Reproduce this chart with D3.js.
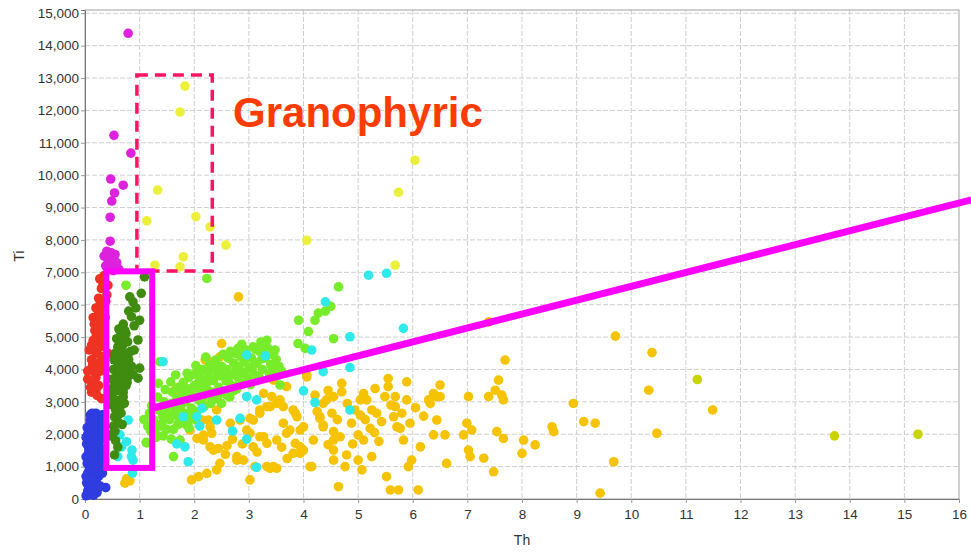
<!DOCTYPE html>
<html lang="en">
<head>
<meta charset="UTF-8">
<title>Th vs Ti</title>
<style>
    body { margin: 0; background: #fff; }
    text { font-family: "Liberation Sans", Arial, sans-serif; }
    .tick text { font-size: 13.5px; fill: #333; }
    .axis-title { font-size: 14px; fill: #333; }
</style>
</head>
<body>
<div id="chart"></div>
<script src="https://cdnjs.cloudflare.com/ajax/libs/d3/7.8.5/d3.min.js"></script>
<script>
    // tick values
    var thTicks = d3.range(0, 17);
    var tiTicks = d3.range(0, 15001, 1000);

    // groups, [Th, Ti]
    var blue = [[0.02,100],[0.05,250],[0.1,150],[0.15,300],[0.03,500],[0.08,600],[0.14,450],[0.2,550],[0.25,700],[0.05,800],
        [0.12,900],[0.18,850],[0.22,1000],[0.28,950],[0.04,1100],[0.1,1200],[0.16,1150],[0.24,1300],[0.3,1250],[0.06,1400],
        [0.13,1500],[0.2,1450],[0.27,1600],[0.03,1700],[0.09,1750],[0.17,1800],[0.23,1900],[0.3,1850],[0.05,2000],[0.12,2050],
        [0.19,2100],[0.26,2150],[0.08,2250],[0.15,2300],[0.22,2350],[0.18,2500],[0.25,2550],[0.2,2650],[0.1,2450],[0.02,1900],
        [0.02,1300],[0.02,700],[0.07,350],[0.12,700],[0.18,1000],[0.27,1100],[0.32,800],[0.35,1500],[0.33,2000],[0.28,400],
        [0.22,200],[0.38,350],[0.1,2600],[0.3,2450],[0.15,1650],[0.09,950],[0.25,1650],[0.35,1100],
        [0.06,150],[0.16,120],[0.25,350],[0.12,380],[0.04,650],[0.2,750],[0.15,620],[0.08,1000],[0.25,880],[0.14,1050],
        [0.32,1350],[0.06,1250],[0.2,1250],[0.11,1350],[0.17,1550],[0.28,1400],[0.07,1550],[0.22,1700],[0.12,1850],[0.27,1800],
        [0.04,2200],[0.14,2150],[0.24,2000],[0.3,2250],[0.1,2300],[0.17,2400],[0.26,2300],[0.13,2650],[0.07,2050],[0.32,2600]];

    var red = [[0.35,6900],[0.42,6600],[0.3,6500],[0.25,6200],[0.38,6100],[0.2,5900],[0.3,5800],[0.22,5500],[0.33,5400],
        [0.18,5200],[0.28,5100],[0.15,4900],[0.25,4800],[0.35,4700],[0.2,4500],[0.3,4400],[0.12,4300],[0.22,4200],[0.1,4000],
        [0.18,3900],[0.28,3950],[0.05,3700],[0.15,3600],[0.25,3500],[0.12,3300],[0.22,3200],[0.3,3100],[0.08,4600],[0.28,5600],
        [0.35,5300],[0.4,6300],[0.15,5600],[0.32,4200],[0.42,4500],
        [0.1,3450],[0.2,3750],[0.27,4100],[0.14,4150],[0.24,4650],[0.12,4750],[0.32,5000],[0.21,5050],[0.27,5350],[0.17,5400],
        [0.25,5750],[0.35,5950],[0.28,6050],[0.33,6650],[0.27,6800],[0.37,5600],[0.05,3950],[0.2,3350]];

    var magenta = [[0.79,14380],[0.53,11230],[0.84,10680],[0.47,9880],[0.7,9690],[0.54,9450],[0.49,9200],[0.46,8700],
        [0.46,7960],[0.4,7650],[0.48,7600],[0.55,7550],[0.42,7400],[0.5,7350],[0.38,7200],[0.45,7150],[0.58,7300],[0.62,7100],
        [0.35,7500],[0.52,7050]];

    var darkGreen = [[1.09,6860],[0.82,6240],[0.88,6090],[1.03,6350],[0.85,5630],[1.0,5520],[0.73,5210],[0.64,5010],[0.97,4910],
        [0.6,4700],[1.0,4040],[0.97,3730],[0.54,3060],[0.64,2850],[0.54,2540],[0.51,2030],[0.54,1360],
        [0.55,4500],[0.65,4400],[0.75,4450],[0.6,4200],[0.7,4250],[0.8,4300],[0.52,4000],[0.62,4050],[0.72,4000],[0.85,4100],
        [0.58,3800],[0.68,3850],[0.78,3750],[0.55,3550],[0.65,3600],[0.75,3500],[0.6,3350],[0.7,3300],[0.5,3150],[0.62,3050],
        [0.72,2950],[0.56,2750],[0.66,2650],[0.6,2400],[0.52,2250],[0.68,2300],[0.56,1800],[0.6,1600],[0.9,4600],[0.68,4700],
        [0.78,4850],[0.58,4950],[0.7,5400],[0.8,5800],[0.93,5900],
        [0.48,3400],[0.57,3450],[0.67,3450],[0.77,3600],[0.82,3950],[0.63,3950],[0.53,4300],[0.73,4150],[0.83,4550],[0.63,4600],
        [0.48,3700],[0.88,3850],[0.58,2550],[0.5,2900],[0.7,3150],[0.66,4850],[0.75,5100],[0.62,5250],[0.9,5350],[0.47,1950],
        [0.55,2100]];

    var cyan = [[0.79,2440],[0.64,1980],[0.76,1770],[0.86,1510],[0.6,1310],[0.88,1200],[0.85,1310],[0.67,1610],[0.87,800],
        [1.43,4240],[2.96,4450],[3.3,4420],[4.0,3340],[4.15,4600],[4.21,2980],[2.14,2800],[2.41,2440],[2.1,2250],[1.8,2540],
        [2.84,2490],[2.96,3160],[3.14,3060],[1.68,1700],[1.83,1610],[1.89,1150],[2.96,1850],[3.14,980],[5.19,6910],[5.52,6970],
        [4.4,6090],[5.83,5270],[4.85,5010],[4.85,4060],[4.36,3930],[4.85,2750],[2.05,2540],[2.7,2100]];

    var lightGreen = [[1.12,1750],[1.2,2100],[1.25,2450],[1.3,1900],[1.35,2750],[1.38,2250],[1.42,2550],[1.45,3000],[1.5,2150],
        [1.48,2800],[1.3,2300],[1.18,2650],[1.28,2050],[1.55,2450],[1.58,2950],[1.6,3300],[1.62,2150],[1.65,2700],[1.68,3100],
        [1.7,3450],[1.72,2500],[1.75,2850],[1.78,3250],[1.8,3600],[1.82,2650],[1.85,3000],[1.88,3400],[1.9,3750],[1.92,2450],
        [1.95,2800],[1.97,3150],[2.0,3500],[2.0,3850],[1.6,2600],[1.7,2300],[1.85,2300],[2.05,2700],[2.08,3050],[2.1,3350],
        [2.12,3700],[2.15,4000],[2.18,2850],[2.2,3200],[2.22,3550],[2.25,3900],[2.28,4150],[2.3,2950],[2.32,3300],[2.35,3650],
        [2.38,4000],[2.4,4300],[2.42,3100],[2.45,3450],[2.48,3800],[2.5,4100],[2.5,2950],[2.1,3900],[2.25,3350],[2.55,3300],
        [2.58,3650],[2.6,4000],[2.62,4350],[2.65,3150],[2.68,3500],[2.7,3850],[2.72,4200],[2.75,4500],[2.78,3400],[2.8,3750],
        [2.82,4100],[2.85,4400],[2.88,3550],[2.9,3900],[2.92,4250],[2.95,4600],[2.98,3700],[3.0,4050],[2.6,3200],[2.8,4650],
        [3.05,4350],[3.08,4700],[3.1,3850],[3.15,4200],[3.2,4550],[3.22,4850],[3.25,4000],[3.3,4350],[3.33,4900],[3.35,4650],
        [3.4,4150],[3.45,4450],[3.5,4300],[3.55,4100],[3.6,3950],[3.38,3850],
        [1.22,2880],[1.33,3150],[1.41,2330],[1.47,3380],[1.52,2620],[1.57,3620],[1.63,2880],[1.66,3830],[1.73,3050],[1.77,2420],
        [1.83,3420],[1.87,3880],[1.93,3280],[1.98,2660],[2.03,4120],[2.07,3580],[2.13,2980],[2.17,3420],[2.21,4380],[2.27,3770],
        [2.33,3050],[2.36,4160],[2.43,3860],[2.46,3250],[2.53,4470],[2.56,3870],[2.63,3630],[2.66,4560],[2.73,3350],[2.77,4030],
        [2.83,3580],[2.87,4780],[2.93,3860],[2.97,4420],[3.03,3530],[3.07,4080],[3.12,4620],[3.18,3780],[3.24,4330],[3.28,4710],
        [3.36,4480],[3.43,4020],[3.48,4600],[3.52,3800],[1.43,1950],[1.58,1850],[1.9,2200],[2.02,2450],[1.15,2250],[1.08,2450],
        [0.75,6600],[2.23,6810],[3.91,5520],[4.21,5520],[4.27,5740],[4.09,5170],[4.03,4650],[4.64,6550],[3.57,3520],[1.34,3570],
        [1.37,4240],[1.62,1310],[1.74,1820],[1.28,2030],[1.13,1730],[4.4,5800],[4.5,5950],[4.55,4950],[3.9,4800]];

    var orange = [[0.73,490],[0.82,560],[0.76,620],
        [2.5,4800],[2.2,4290],[2.32,4240],[2.47,4390],[2.81,6240],[1.65,3360],[2.14,3060],[1.74,2340],[1.92,2130],
        [2.05,1870],[2.17,1975],[2.32,2030],[2.29,1610],[2.44,1560],[2.47,1100],[1.95,590],[2.08,690],[2.23,790],[2.41,900],
        [2.14,2440],[2.26,2440],[2.41,2750],[2.29,2230],[2.35,1510],[2.17,1820],
        [2.78,1310],[2.9,1200],[2.78,1200],[3.02,590],[3.11,1000],[3.33,1000],[3.45,1000],[3.39,950],[3.51,950],[2.84,2440],
        [2.96,2130],[3.08,2440],[3.2,2750],[3.33,2850],[3.27,3260],[3.42,3160],[3.51,2950],[3.2,1920],[3.33,1720],[3.08,1610],
        [3.02,2030],[3.27,1920],[3.51,1820],[3.69,2030],[2.66,2340],[3.02,2490],[3.2,2650],[3.39,2850],
        [3.63,2340],[3.75,2130],[3.88,2540],[4.0,2230],[3.85,1720],[3.94,1410],[4.12,1000],[3.63,2850],[3.81,2750],[3.69,3470],
        [3.45,3670],[3.57,3060],[3.85,2650],[4.3,2540],[4.06,3830],[4.21,3210],[4.42,3060],[3.94,2130],[3.94,1610],[3.81,1410],
        [4.18,1820],[4.36,2230],
        [4.0,1510],[4.15,1000],[4.06,3770],[4.36,2950],[4.3,2490],[4.36,2280],[4.55,3160],[4.52,2650],[4.55,2080],[4.67,1920],
        [4.55,1820],[4.7,3570],[4.7,3310],[4.55,1510],[4.55,1200],[4.79,1360],[4.76,1000],[4.64,380],
        [4.88,2340],[4.94,2750],[5.04,2590],[5.0,1980],[5.1,1820],[5.0,1200],[5.07,900],[5.1,3260],[5.16,3060],[5.04,3060],
        [5.25,2750],[5.22,2180],[5.25,1310],[5.31,3410],[5.34,2650],[5.43,2390],[5.49,3160],[5.55,3720],[5.55,3470],[5.52,690],
        [5.59,280],[5.74,280],[5.68,3160],[5.65,2540],[5.71,2230],[5.77,2180],[5.68,2850],[5.89,3620],[5.89,3060],[5.95,2340],
        [5.83,1820],[5.92,1000],[5.98,1200],[6.1,280],[6.14,1610],
        [6.29,3060],[6.32,2950],[6.38,3260],[6.5,3520],[6.44,3160],[6.5,3160],[6.44,2440],[6.38,1980],[6.59,1980],[6.62,1100],
        [7.02,3160],[6.99,2340],[6.93,1980],[7.08,2130],[7.02,1510],[7.05,1310],[7.3,1260],[7.48,840],[7.39,3160],[7.51,3360],
        [7.57,3670],[7.63,3210],[7.66,3060],[7.69,4290],[7.54,2080],[7.66,1870],[7.39,5470],
        [8.03,1820],[8.0,1410],[8.24,1670],[8.55,2230],[8.58,2080],[8.94,2950],[9.13,2390],[9.34,2340],[9.43,180],[9.68,1150],
        [9.71,5030],[10.38,4520],[10.32,3360],[10.47,2030],[11.49,2750],
        [2.6,1650],[2.7,1850],[2.57,1380],[2.88,1700],[3.15,1450],[3.6,1600],[3.7,1250],[4.45,1680],[4.62,2450],[4.8,2950],
        [4.9,1700],[5.13,2450],[5.3,2050],[5.38,1780],[5.6,2900],[5.8,2650],[6.2,2560],[6.05,2820],[4.25,2700],[4.45,3350]];

    var olive = [[11.21,3690],[13.72,1950],[15.25,2000]];

    var yellow = [[1.83,12750],[1.74,11950],[1.33,9540],[1.13,8590],[2.03,8720],[2.29,8400],[2.58,7840],[1.8,7480],
        [1.74,7170],[1.28,7220],[4.06,7990],[5.74,9470],[6.04,10460],[5.68,7220]];

    // annotations, in data units
    var granoBox = {x0: 0.95, x1: 2.33, y0: 7040, y1: 13090};
    var greenBox = {x0: 0.39, x1: 1.23, y0: 960, y1: 7030};
    var trendLine = [[1.25, 2810], [16.23, 9240]];
    var granoLabel = {th: 2.71, ti: 11480, text: "Granophyric"};

    var W = 971, H = 553;
    var svg = d3.select("#chart").append("svg")
        .attr("width", W).attr("height", H);

    var x = d3.scaleLinear().domain([0, 16]).range([85, 959]);
    var y = d3.scaleLinear().domain([0, 15100]).range([499, 10]);

    // grid
    svg.append("g").selectAll("line")
        .data(thTicks.slice(1, -1))
        .enter().append("line")
        .attr("x1", d => x(d)).attr("x2", d => x(d))
        .attr("y1", y(15100)).attr("y2", y(0))
        .attr("stroke", "#cfcfcf").attr("stroke-dasharray", "5,2");
    svg.append("g").selectAll("line")
        .data(tiTicks.slice(1))
        .enter().append("line")
        .attr("x1", x(0)).attr("x2", x(16))
        .attr("y1", d => y(d)).attr("y2", d => y(d))
        .attr("stroke", "#cfcfcf").attr("stroke-dasharray", "5,2");

    // frame
    svg.append("rect")
        .attr("x", x(0)).attr("y", y(15100))
        .attr("width", x(16) - x(0)).attr("height", y(0) - y(15100))
        .attr("fill", "none").attr("stroke", "#a0a0a0");

    var xAxis = svg.append("g")
        .attr("transform", "translate(0," + y(0) + ")")
        .call(d3.axisBottom(x).tickValues(thTicks).tickSize(4).tickPadding(6));
    var yAxis = svg.append("g")
        .attr("transform", "translate(" + x(0) + ",0)")
        .call(d3.axisLeft(y).tickValues(tiTicks).tickFormat(d3.format(",")).tickSize(4).tickPadding(2));
    [xAxis, yAxis].forEach(function (a) {
        a.select(".domain").attr("stroke", "#777");
        a.selectAll(".tick line").attr("stroke", "#999");
    });

    svg.append("text").attr("class", "axis-title")
        .attr("x", (x(0) + x(16)) / 2).attr("y", 545)
        .attr("text-anchor", "middle").text("Th");
    svg.append("text").attr("class", "axis-title")
        .attr("transform", "translate(24," + y(7500) + ") rotate(-90)")
        .attr("text-anchor", "middle").text("Ti");

    // points
    function dots(data, color) {
        svg.append("g").selectAll("circle")
            .data(data)
            .enter().append("circle")
            .attr("cx", d => x(d[0]))
            .attr("cy", d => y(d[1]))
            .attr("r", 4.8)
            .attr("fill", color);
    }
    dots(orange, "#f5c300");
    dots(olive, "#c9d400");
    dots(lightGreen, "#78ec2a");
    dots(cyan, "#2eeaea");
    dots(yellow, "#ecf03a");
    dots(blue, "#2f3ce0");
    dots(red, "#ee3324");
    dots(darkGreen, "#3f8c10");
    dots(magenta, "#dd22dd");

    // annotations
    svg.append("rect")
        .attr("x", x(granoBox.x0)).attr("y", y(granoBox.y1))
        .attr("width", x(granoBox.x1) - x(granoBox.x0))
        .attr("height", y(granoBox.y0) - y(granoBox.y1))
        .attr("fill", "none").attr("stroke", "#ff1464")
        .attr("stroke-width", 3.5).attr("stroke-dasharray", "11,7");

    svg.append("rect")
        .attr("x", x(greenBox.x0)).attr("y", y(greenBox.y1))
        .attr("width", x(greenBox.x1) - x(greenBox.x0))
        .attr("height", y(greenBox.y0) - y(greenBox.y1))
        .attr("fill", "none").attr("stroke", "#ff00ff")
        .attr("stroke-width", 6);

    svg.append("path")
        .datum(trendLine)
        .attr("d", d3.line().x(d => x(d[0])).y(d => y(d[1])))
        .attr("stroke", "#ff00ff").attr("stroke-width", 7).attr("fill", "none");

    svg.append("text")
        .attr("x", x(granoLabel.th)).attr("y", y(granoLabel.ti))
        .attr("font-size", "42px").attr("font-weight", "bold")
        .attr("fill", "#ff3c00").text(granoLabel.text);
</script>
</body>
</html>
